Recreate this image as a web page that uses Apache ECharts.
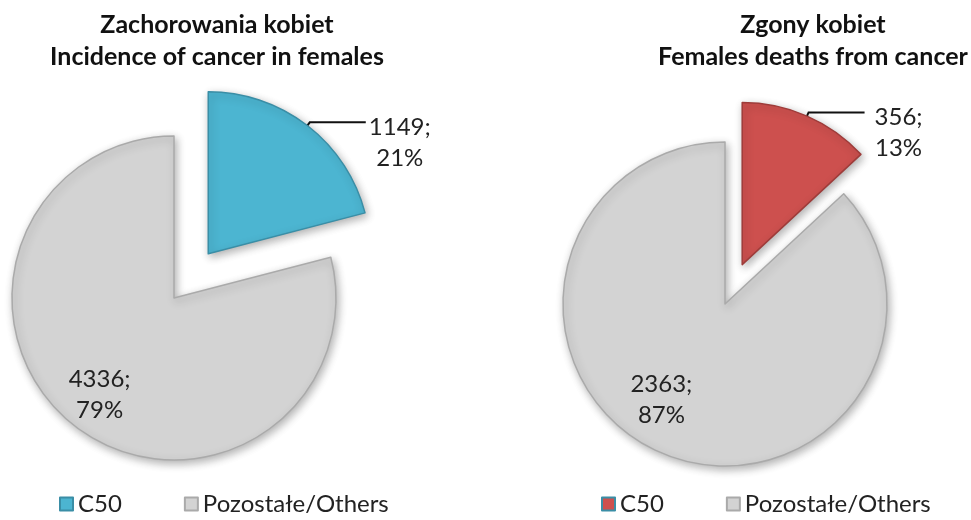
<!DOCTYPE html>
<html>
<head>
<meta charset="utf-8">
<script src="https://cdn.jsdelivr.net/npm/echarts@6/dist/echarts.min.js"></script>
<style>
  html, body { margin: 0; padding: 0; background: #ffffff; }
  #chart { width: 971px; height: 520px; }
</style>
</head>
<body>
<div id="chart"></div>
<script>
// Breast cancer (C50) against all other cancers, women
const categories = ['C50', 'Pozostałe/Others'];
const incidenceValues = [1149, 4336];
const deathValues = [356, 2363];
const titles = [
  'Zachorowania kobiet\nIncidence of cancer in females',
  'Zgony kobiet\nFemales deaths from cancer'
];

const FONT = 'Lato';
const GREY = '#d3d3d3';
const TEXT = '#222222';
const LINE_H = 31;

function sliceData(values, accent, accentBorder) {
  return values.map(function (v, i) {
    const isC50 = i === 0;
    return {
      name: categories[i],
      value: v,
      selected: isC50,
      itemStyle: {
        color: isC50 ? accent : GREY,
        borderColor: isC50 ? accentBorder : '#aaaaaa',
        borderWidth: 1.5
      },
      // top padding drops the first text line onto the leader line
      label: isC50
        ? { position: 'outside', padding: [LINE_H + 10, 0, 0, 0] }
        : { position: 'inside' },
      labelLine: { show: isC50 }
    };
  });
}

function pieSeries(values, center, offset, accent, accentBorder, greyLabelOffset) {
  const data = sliceData(values, accent, accentBorder);
  data[1].label.offset = greyLabelOffset;
  return {
    type: 'pie',
    center: center,
    radius: 162,
    startAngle: 90,
    clockwise: true,
    selectedMode: 'single',
    selectedOffset: offset,
    avoidLabelOverlap: false,
    percentPrecision: 0,
    silent: true,
    itemStyle: {
      shadowColor: 'rgba(0,0,0,0.30)',
      shadowBlur: 8,
      shadowOffsetX: 2,
      shadowOffsetY: 3
    },
    label: {
      formatter: '{v|{c};}\n{v|{d}%}',
      rich: {
        v: {
          fontFamily: FONT,
          fontSize: 24,
          color: TEXT,
          lineHeight: LINE_H,
          width: 58,
          align: 'center'
        }
      }
    },
    labelLine: {
      length: 4,
      length2: 56,
      lineStyle: { color: '#111111', width: 2 }
    },
    data: data
  };
}

function legendFor(left, accent) {
  return {
    left: left,
    top: 487,
    orient: 'horizontal',
    icon: 'rect',
    itemWidth: 13,
    itemHeight: 13,
    itemGap: 62,
    selectedMode: false,
    textStyle: { fontFamily: FONT, fontSize: 24, color: TEXT },
    data: [
      { name: categories[0], itemStyle: { color: accent } },
      { name: categories[1], itemStyle: { color: GREY } }
    ]
  };
}

function titleFor(text, left) {
  return {
    text: text,
    left: left,
    top: 4,
    textAlign: 'center',
    textStyle: {
      fontFamily: FONT,
      fontSize: 25,
      fontWeight: 'bold',
      color: '#111111',
      lineHeight: 32
    }
  };
}

const chart = echarts.init(document.getElementById('chart'), null, { renderer: 'canvas' });
chart.setOption({
  backgroundColor: '#ffffff',
  animation: false,
  title: [titleFor(titles[0], 212), titleFor(titles[1], 808)],
  legend: [legendFor(54, '#4cb5d1'), legendFor(596, '#cd504e')],
  series: [
    pieSeries(incidenceValues, [174, 298], 56, '#4cb5d1', '#3a8ea6', [-23, 30]),
    pieSeries(deathValues, [725, 304], 43, '#cd504e', '#9e3c3a', [-30, 19])
  ]
});
</script>
</body>
</html>
